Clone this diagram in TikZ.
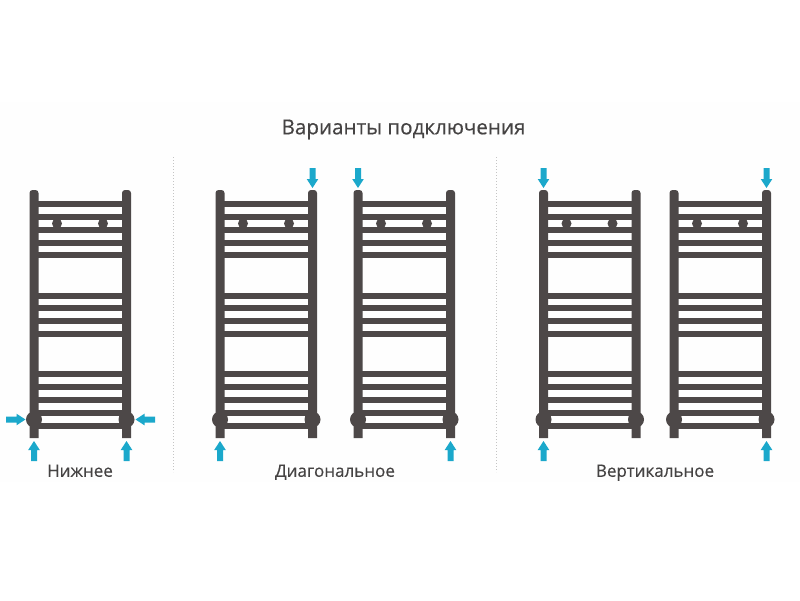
\documentclass[tikz,border=0pt]{standalone}
\usepackage{fontspec}
\setmainfont{Open Sans}
\newfontfamily\heavierfont[FakeBold=0.35]{Open Sans}
\definecolor{rail}{HTML}{4D4848}
\definecolor{flow}{HTML}{1BA8CB}
\definecolor{ink}{HTML}{454343}
\definecolor{sep}{HTML}{C4C4C4}
\definecolor{band}{HTML}{FEFEFE}
\tikzset{
  x=1pt,y=-1pt,
  barline/.style={rail,line width=5.8pt},
  sepline/.style={sep,line width=1pt,dash pattern=on 1pt off 2pt},
  flowfill/.style={fill=flow,draw=none},
  caption/.style={ink,font=\heavierfont\fontsize{17}{20}\selectfont,inner sep=0pt,anchor=base},
  titletext/.style={ink,font=\heavierfont\fontsize{20.6}{24}\selectfont,inner sep=0pt,anchor=base}
}
% #1 = left post centre x
\newcommand{\towelrail}[1]{%
  \begin{scope}[shift={(#1,0)}]
    \foreach \yy in {204,217.3,230,242.7,255.3,295.7,308.3,321,334,374,387.3,400,413.3,426}
      \draw[barline] (0,\yy) -- (92.5,\yy);
    \foreach \xx in {0,92.5}
      \fill[rail,shift={(\xx,0)}] (-4.5,438) [rounded corners=3] -- (-4.5,190) -- (4.5,190) [sharp corners] -- (4.5,438) -- cycle;
    \fill[rail] (23,223.5) circle[radius=5];
    \fill[rail] (69,223.5) circle[radius=5];
    \fill[rail] (0,419.5) circle[radius=8];
    \fill[rail] (92.5,419.5) circle[radius=8];
  \end{scope}}
\newcommand{\arrowup}[1]{\fill[flowfill,shift={(#1,0)}] (0,441) -- (5.8,450) -- (3,450) -- (3,461) -- (-3,461) -- (-3,450) -- (-5.8,450) -- cycle;}
\newcommand{\arrowdown}[1]{\fill[flowfill,shift={(#1,0)}] (0,188) -- (5.8,179) -- (3,179) -- (3,168) -- (-3,168) -- (-3,179) -- (-5.8,179) -- cycle;}
\begin{document}
\begin{tikzpicture}
\useasboundingbox (0,0) rectangle (800,600);
\fill[band] (0,102) rectangle (800,482);
\node[titletext] (title) at (403.5,134.3) {Варианты подключения};
\draw[sepline] (173,157) -- (173,472);
\draw[sepline] (496,157) -- (496,472);
\towelrail{34}
\towelrail{220}
\towelrail{358}
\towelrail{543.5}
\towelrail{674}
% bottom side arrows
\fill[flowfill] (25.5,419.5) -- (16.5,413.7) -- (16.5,416.5) -- (6,416.5) -- (6,422.5) -- (16.5,422.5) -- (16.5,425.3) -- cycle;
\fill[flowfill] (135.5,419.5) -- (144.5,413.7) -- (144.5,416.5) -- (155,416.5) -- (155,422.5) -- (144.5,422.5) -- (144.5,425.3) -- cycle;
\arrowup{34}\arrowup{126.5}
\arrowup{220}\arrowdown{312.5}
\arrowdown{358}\arrowup{450.5}
\arrowdown{543.5}\arrowup{543.5}
\arrowdown{766.5}\arrowup{766.5}
\node[caption] (c1) at (80,476.8) {Нижнее};
\node[caption] (c2) at (335,476.8) {Диагональное};
\node[caption] (c3) at (655,476.8) {Вертикальное};
\end{tikzpicture}
\end{document}
